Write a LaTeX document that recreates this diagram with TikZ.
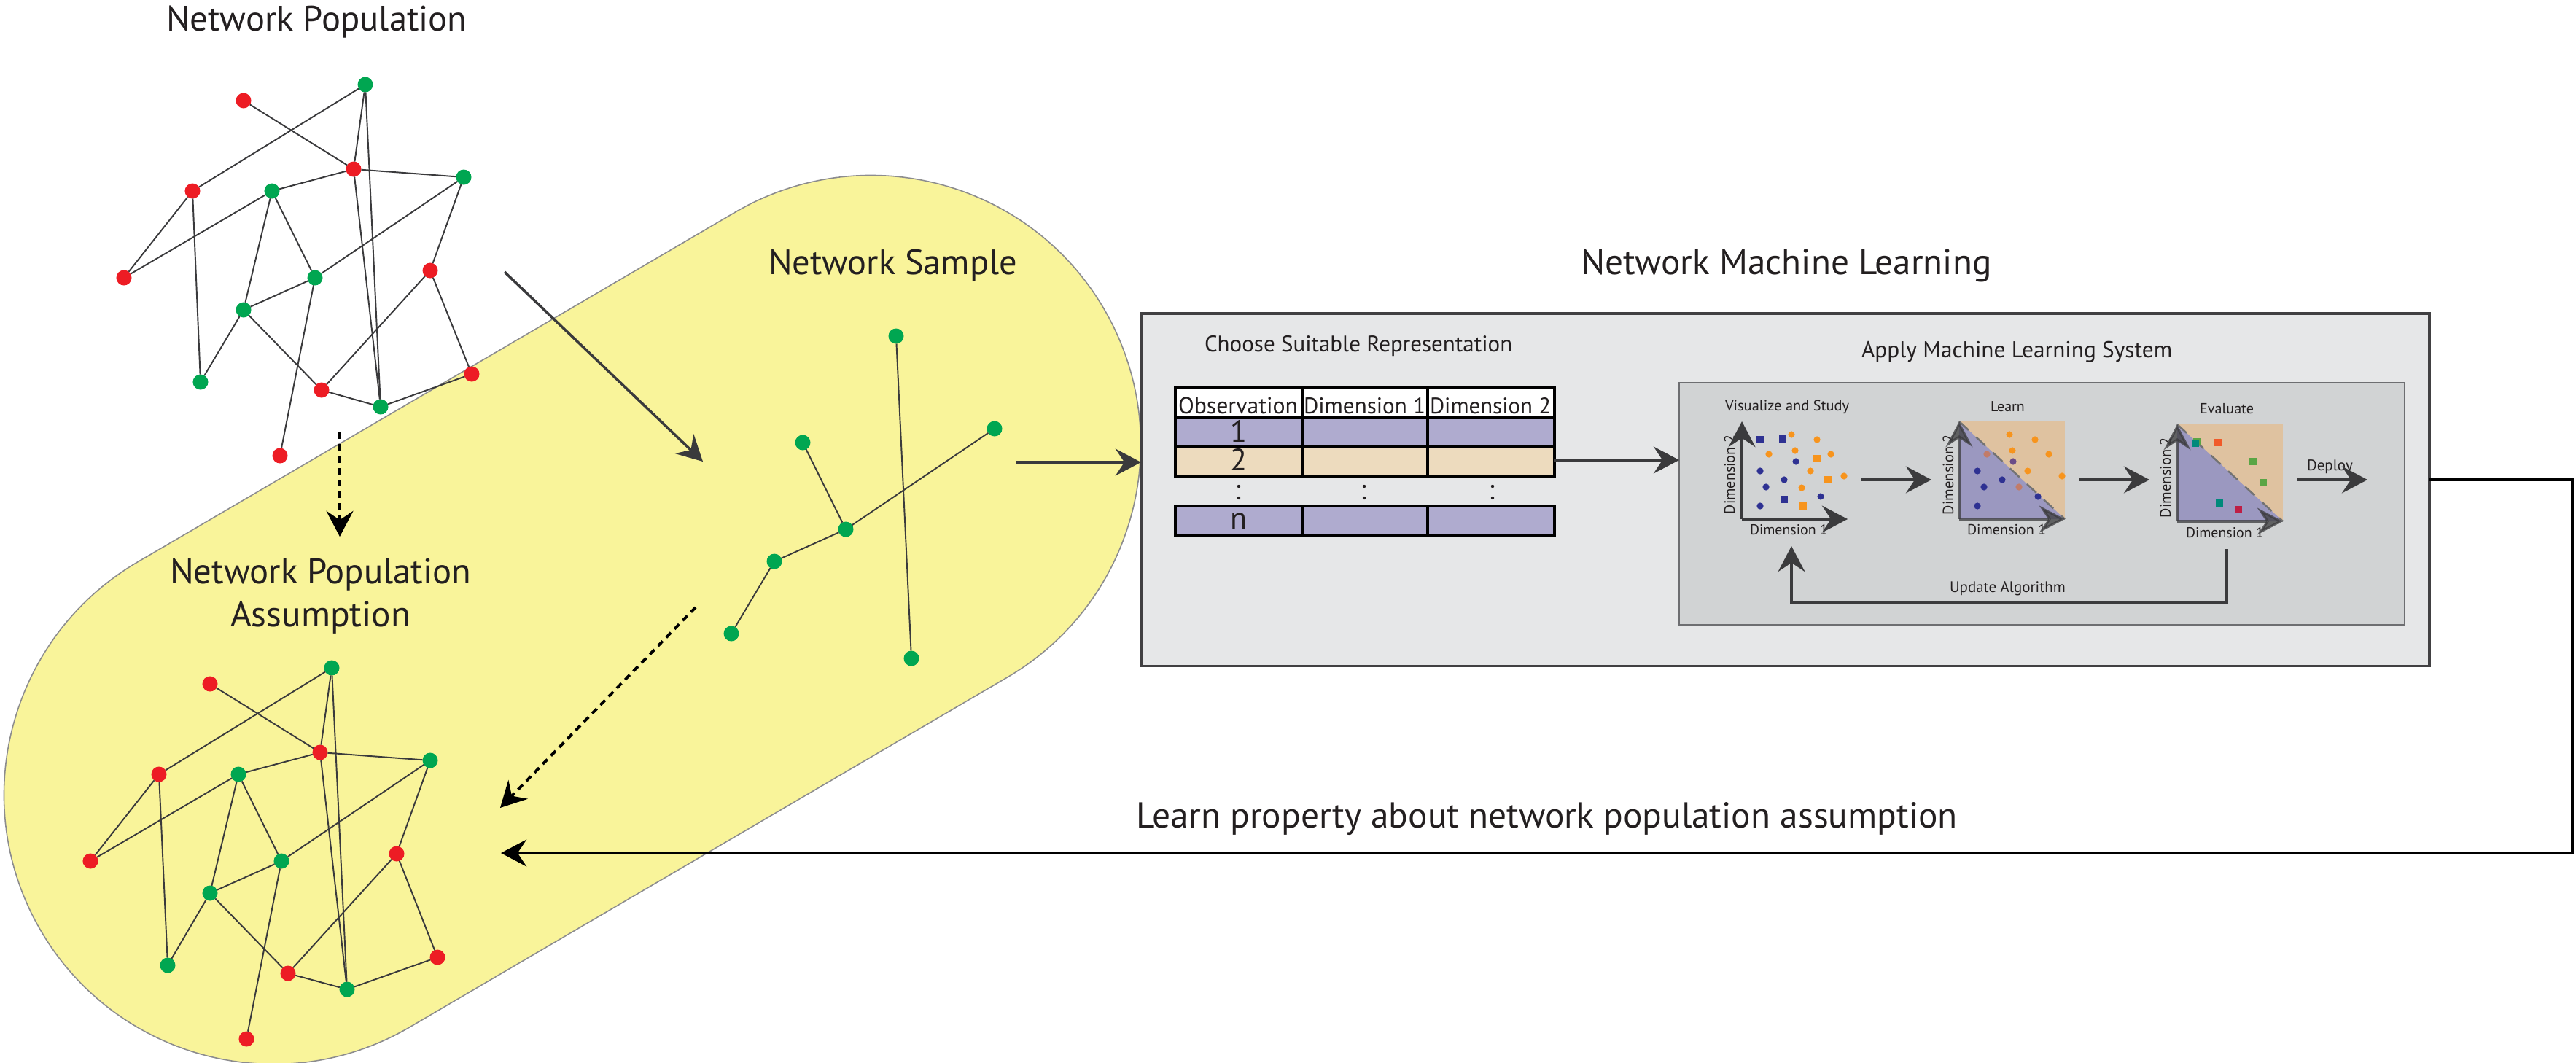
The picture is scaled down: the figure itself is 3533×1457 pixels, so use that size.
\documentclass[tikz,border=0pt]{standalone}
\usepackage{fontspec}
\setmainfont{PT Sans}
\usepackage{graphicx}
\usetikzlibrary{arrows.meta}
\definecolor{ngreen}{HTML}{00A651}
\definecolor{nred}{HTML}{ED1C24}
\definecolor{edgec}{HTML}{3A3A3C}
\definecolor{capfill}{HTML}{F9F49A}
\definecolor{capline}{HTML}{8C8C8E}
\definecolor{boxfill}{HTML}{E6E7E8}
\definecolor{boxline}{HTML}{414042}
\definecolor{innerfill}{HTML}{D1D3D4}
\definecolor{innerline}{HTML}{6D6E71}
\definecolor{tpurple}{HTML}{AFABCF}
\definecolor{ttan}{HTML}{EDDBBE}
\definecolor{ptan}{HTML}{DFC2A0}
\definecolor{ppurple}{HTML}{9B98C0}
\definecolor{porange}{HTML}{F7941D}
\definecolor{pblue}{HTML}{2E3192}
\definecolor{pbrown}{HTML}{C27B68}
\definecolor{pviolet}{HTML}{6A4C88}
\definecolor{pteal}{HTML}{00897B}
\definecolor{pred}{HTML}{F15A29}
\definecolor{pgreen}{HTML}{5AA545}
\definecolor{pcrim}{HTML}{BE1E45}
\definecolor{txt}{HTML}{231F20}
\definecolor{axc}{HTML}{3B3B3D}
\newcommand\fw[2]{\resizebox{#1cm}{!}{#2}}
\newcommand\scatc[3]{\fill[#1] (#2,#3) circle[radius=0.46mm];}
\newcommand\scats[3]{\fill[#1] (#2,#3) ++(-4.6,-4.6) rectangle ++(9.2,9.2);}
\begin{document}
\begin{tikzpicture}[x=0.01cm,y=-0.01cm,
  gn/.style={circle,fill=ngreen,minimum size=0.21cm,inner sep=0pt,outer sep=0pt},
  rn/.style={circle,fill=nred,minimum size=0.21cm,inner sep=0pt,outer sep=0pt},
  netline/.style={draw=edgec,line width=0.55pt},
  arrtip/.style={-{Stealth[length=10pt,width=10.5pt,inset=3.5pt]}},
  bigarr/.style={arrtip,draw=edgec,line width=1pt},
  panarr/.style={arrtip,draw=axc,line width=0.9pt},
  dasharr/.style={arrtip,draw=black,line width=1.1pt,dash pattern=on 2.6pt off 2pt},
  lbl/.style={inner sep=0pt,outer sep=0pt,text=txt,anchor=base west},
  numl/.style={inner sep=0pt,outer sep=0pt,text=txt,anchor=base,font=\fontsize{12}{12}\selectfont}
]
\path[use as bounding box,fill=white] (0,0) rectangle (3533,1457);

% yellow capsule
\draw[fill=capfill,draw=capline,line width=0.45pt,rounded corners=3.695cm]
  (598.3,531.1) -- (1327.2,104.4) -- (1700.6,742.2) -- (242.8,1595.6) -- (-130.6,957.8) -- cycle;

% ---------- top network ----------
\node[rn] (t1) at (334,138) {};
\node[gn] (t2) at (501,116) {};
\node[rn] (t3) at (485,232) {};
\node[gn] (t4) at (636,243) {};
\node[rn] (t5) at (264,262) {};
\node[gn] (t6) at (373,262) {};
\node[rn] (t7) at (170,381) {};
\node[gn] (t8) at (432,381) {};
\node[rn] (t9) at (590,371) {};
\node[gn] (t10) at (334,425) {};
\node[gn] (t11) at (275,524) {};
\node[rn] (t12) at (441,535) {};
\node[gn] (t13) at (522,558) {};
\node[rn] (t14) at (647,513) {};
\node[rn] (t15) at (384,625) {};
\foreach \a/\b in {1/3,2/5,2/3,2/13,3/6,3/4,3/13,5/7,5/11,6/7,6/10,6/8,4/8,4/9,8/10,8/15,10/11,10/12,9/12,9/14,12/13,13/14}
  \draw[netline] (t\a) -- (t\b);

% ---------- bottom network ----------
\node[rn] (b1) at (288,938) {};
\node[gn] (b2) at (455,916) {};
\node[rn] (b3) at (439,1032) {};
\node[gn] (b4) at (590,1043) {};
\node[rn] (b5) at (218,1062) {};
\node[gn] (b6) at (327,1062) {};
\node[rn] (b7) at (124,1181) {};
\node[gn] (b8) at (386,1181) {};
\node[rn] (b9) at (544,1171) {};
\node[gn] (b10) at (288,1225) {};
\node[gn] (b11) at (230,1324) {};
\node[rn] (b12) at (395,1335) {};
\node[gn] (b13) at (476,1357) {};
\node[rn] (b14) at (600,1313) {};
\node[rn] (b15) at (338,1425) {};
\foreach \a/\b in {1/3,2/5,2/3,2/13,3/6,3/4,3/13,5/7,5/11,6/7,6/10,6/8,4/8,4/9,8/10,8/15,10/11,10/12,9/12,9/14,12/13,13/14}
  \draw[netline] (b\a) -- (b\b);

% ---------- sample network ----------
\node[gn] (s1) at (1229,461) {};
\node[gn] (s2) at (1364,588) {};
\node[gn] (s3) at (1101,607) {};
\node[gn] (s4) at (1160,726) {};
\node[gn] (s5) at (1062,770) {};
\node[gn] (s6) at (1003,869) {};
\node[gn] (s7) at (1250,903) {};
\foreach \a/\b in {1/7,3/4,4/2,4/5,5/6}
  \draw[netline] (s\a) -- (s\b);

% ---------- titles ----------
\node[lbl] (tNP) at (228,42) {\fw{4.12}{Network Population}};
\node[lbl] (tNS) at (1054,376) {\fw{3.41}{Network Sample}};
\node[lbl] (tNPA1) at (233,800) {\fw{4.13}{Network Population}};
\node[lbl] (tNPA2) at (316,859) {\fw{2.47}{Assumption}};
\node[lbl] (tNML) at (2168,376) {\fw{5.63}{Network Machine Learning}};
\node[lbl] (tLP) at (1558,1135) {\fw{11.26}{Learn property about network population assumption}};

% ---------- arrows on left ----------
\coordinate (a1) at (692,373);
\coordinate (a2) at (964,633);
\draw[bigarr] (a1) -- (a2);
\coordinate (d1) at (466,593);
\coordinate (d2) at (466,736);
\draw[dasharr] (d1) -- (d2);
\coordinate (d3) at (954,833);
\coordinate (d4) at (686,1108);
\draw[dasharr] (d3) -- (d4);

% ---------- ML boxes ----------
\node[draw=boxline,fill=boxfill,line width=0.95pt,minimum width=17.66cm,minimum height=4.83cm,
      anchor=north west,inner sep=0pt,outer sep=0pt] (mlbox) at (1565,430) {};
\node[draw=innerline,fill=innerfill,line width=0.45pt,minimum width=9.94cm,minimum height=3.32cm,
      anchor=north west,inner sep=0pt,outer sep=0pt] (inner) at (2303,525) {};
\coordinate (sa) at (1393,634);
\draw[bigarr] (sa) -- (sa -| mlbox.west);

\node[lbl] (tCSR) at (1652,482) {\fw{4.22}{Choose Suitable Representation}};
\node[lbl] (tAML) at (2553,490) {\fw{4.26}{Apply Machine Learning System}};

% ---------- table ----------
\fill[white] (1612,532) rectangle (2132,573);
\fill[tpurple] (1612,573) rectangle (2132,613);
\fill[ttan] (1612,613) rectangle (2132,654);
\fill[tpurple] (1612,694) rectangle (2132,735);
\draw[line width=1pt] (1612,532) rectangle (2132,654);
\draw[line width=1pt] (1612,573) -- (2132,573) (1612,613) -- (2132,613);
\draw[line width=1pt] (1786,532) -- (1786,654) (1958,532) -- (1958,654);
\draw[line width=1pt] (1612,694) rectangle (2132,735);
\draw[line width=1pt] (1786,694) -- (1786,735) (1958,694) -- (1958,735);
\node[lbl] (h1) at (1616,567) {\fw{1.64}{Observation}};
\node[lbl] (h2) at (1788,567) {\fw{1.67}{Dimension 1}};
\node[lbl] (h3) at (1961,567) {\fw{1.66}{Dimension 2}};
\node[numl] (rw1) at (1699,606) {1};
\node[numl] (rw2) at (1699,645) {2};
\node[numl] (rwn) at (1699,725) {n};
\foreach \x in {1699,1871,2047} {
  \fill[txt] (\x,667) circle[radius=0.22mm];
  \fill[txt] (\x,683) circle[radius=0.22mm];
}
\coordinate (ta) at (2132,631);
\draw[bigarr] (ta) -- (ta -| inner.west);

% ---------- panel 1 ----------
\node[lbl] (v1) at (2366,563) {\fw{1.70}{Visualize and Study}};
\node[lbl] (x1) at (2400,733) {\fw{1.067}{Dimension 1}};
\node[lbl,rotate=90] (y1) at (2379,705) {\fw{1.08}{Dimension 2}};
\scats{pblue}{2414}{603} \scats{pblue}{2445}{602} \scats{pblue}{2447}{685}
\scatc{porange}{2457}{596} \scatc{porange}{2492}{603} \scatc{porange}{2426}{623}
\scatc{porange}{2462}{618} \scatc{porange}{2511}{623} \scatc{porange}{2483}{646}
\scatc{porange}{2471}{669} \scatc{porange}{2529}{653}
\scats{porange}{2492}{629} \scats{porange}{2507}{658} \scats{porange}{2473}{694}
\scatc{pblue}{2463}{633} \scatc{pblue}{2414}{646} \scatc{pblue}{2447}{658}
\scatc{pblue}{2422}{668} \scatc{pblue}{2497}{681} \scatc{pblue}{2414}{694}
\coordinate (o1) at (2389,712);
\draw[panarr] (o1) -- (2389,578);
\draw[panarr] (o1) -- (2534,712);

% ---------- panel 2 ----------
\node[lbl] (v2) at (2730,564) {\fw{0.467}{Learn}};
\fill[ptan] (2687,578) rectangle (2832,712);
\fill[ppurple] (2687,578) -- (2687,712) -- (2832,712) -- cycle;
\draw[draw=gray!90!black,line width=0.7pt,dash pattern=on 5pt off 4pt] (2687,578) -- (2832,712);
\scatc{porange}{2756}{596} \scatc{porange}{2791}{603} \scatc{porange}{2760}{618}
\scatc{porange}{2810}{623} \scatc{porange}{2781}{646} \scatc{porange}{2828}{653}
\scatc{pbrown}{2725}{623} \scatc{pbrown}{2769}{668}
\scatc{pviolet}{2761}{633}
\scatc{pblue}{2712}{646} \scatc{pblue}{2746}{658} \scatc{pblue}{2721}{668}
\scatc{pblue}{2795}{681} \scatc{pblue}{2712}{694}
\node[lbl] (x2) at (2698,733) {\fw{1.08}{Dimension 1}};
\node[lbl,rotate=90] (y2) at (2679,706) {\fw{1.10}{Dimension 2}};
\coordinate (o2) at (2687,712);
\draw[panarr,opacity=0.75] (o2) -- (2687,578);
\draw[panarr,opacity=0.75] (o2) -- (2832,712);

% ---------- panel 3 ----------
\node[lbl] (v3) at (3017,567) {\fw{0.74}{Evaluate}};
\fill[ptan] (2986,582) rectangle (3131,715);
\fill[ppurple] (2986,582) -- (2986,715) -- (3131,715) -- cycle;
\draw[draw=gray!90!black,line width=0.7pt,dash pattern=on 5pt off 4pt] (2986,582) -- (3131,715);
\scats{pgreen}{3013}{606} \scats{pteal}{3011}{608}
\scats{pred}{3042}{607} \scats{pgreen}{3090}{633} \scats{pgreen}{3104}{662}
\scats{pteal}{3044}{690} \scats{pcrim}{3070}{699}
\node[lbl] (x3) at (2998,737) {\fw{1.067}{Dimension 1}};
\node[lbl,rotate=90] (y3) at (2977,710) {\fw{1.10}{Dimension 2}};
\coordinate (o3) at (2986,715);
\draw[panarr,opacity=0.75] (o3) -- (2986,582);
\draw[panarr,opacity=0.75] (o3) -- (3131,715);

% ---------- panel arrows ----------
\coordinate (p1a) at (2553,658);
\coordinate (p1b) at (2649,658);
\draw[panarr] (p1a) -- (p1b);
\coordinate (p2a) at (2851,658);
\coordinate (p2b) at (2948,658);
\draw[panarr] (p2a) -- (p2b);
\node[lbl] (dep) at (3164,645) {\fw{0.627}{Deploy}};
\coordinate (p3a) at (3150,658);
\coordinate (p3b) at (3247,658);
\draw[panarr] (p3a) -- (p3b);
\coordinate (u0) at (3054,753);
\coordinate (u1) at (3054,827);
\coordinate (u2) at (2457,827);
\coordinate (u3) at (2457,749);
\draw[panarr] (u0) -- (u1) -- (u2) -- (u3);
\node[lbl] (upd) at (2674,812) {\fw{1.587}{Update Algorithm}};

% ---------- return path ----------
\coordinate (r0) at (3331,658);
\coordinate (r1) at (3528,658);
\coordinate (r2) at (3528,1170);
\coordinate (r3) at (687,1170);
\draw[arrtip,draw=black,line width=0.9pt] (r0) -- (r1) -- (r2) -- (r3);
\end{tikzpicture}
\end{document}
